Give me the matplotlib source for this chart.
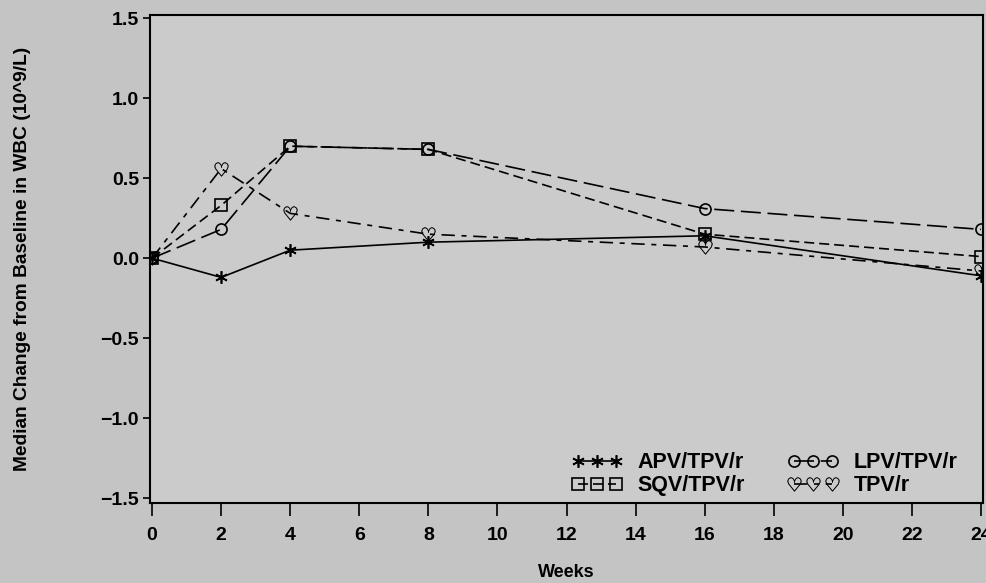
import matplotlib
matplotlib.use("Agg")
import matplotlib.pyplot as plt

plt.rcParams["font.family"] = ["Liberation Sans", "DejaVu Sans"]
plt.rcParams["font.weight"] = "bold"
plt.rcParams["axes.unicode_minus"] = True

weeks = [0, 2, 4, 8, 16, 24]

apv_tpv_r = [0.0, -0.12, 0.05, 0.10, 0.14, -0.11]
sqv_tpv_r = [0.0, 0.33, 0.70, 0.68, 0.15, 0.01]
lpv_tpv_r = [0.0, 0.18, 0.70, 0.68, 0.31, 0.18]
tpv_r = [0.0, 0.56, 0.28, 0.15, 0.07, -0.08]

series_names = ["APV/TPV/r", "SQV/TPV/r", "LPV/TPV/r", "TPV/r"]

x_ticks = list(range(0, 25, 2))
y_ticks = [-1.5, -1.0, -0.5, 0.0, 0.5, 1.0, 1.5]

fig = plt.figure(figsize=(9.87, 5.83), dpi=100, facecolor="#c4c4c4")
ax = fig.add_axes([0.152, 0.137, 0.844, 0.837], facecolor="#cbcbcb")

ax.plot(weeks, apv_tpv_r, color="black", lw=1.2, ls="-",
        marker=(6, 2, 0), ms=9, mew=1.2, label=series_names[0])
ax.plot(weeks, sqv_tpv_r, color="black", lw=1.2, ls=(0, (6, 3)),
        marker="s", ms=8, mfc="none", mew=1.2, label=series_names[1])
ax.plot(weeks, lpv_tpv_r, color="black", lw=1.2, ls=(0, (12, 4)),
        marker="o", ms=8, mfc="none", mew=1.2, label=series_names[2])
ax.plot(weeks, tpv_r, color="black", lw=1.2, ls=(0, (8, 4, 3, 4)),
        marker=r"$\heartsuit$", ms=10, mew=0.3, label=series_names[3])

ax.set_xlim(-0.06, 24.06)
ax.set_ylim(-1.531, 1.519)
ax.set_xticks(x_ticks)
ax.set_yticks(y_ticks)
ax.set_yticklabels([f"{v:.1f}".replace("-", "\u2212") for v in y_ticks])

ax.tick_params(axis="both", labelsize=14, width=1.2, direction="out")
ax.tick_params(axis="x", length=9, pad=8)
ax.tick_params(axis="y", length=5, pad=3)
for s in ax.spines.values():
    s.set_linewidth(1.5)

ax.set_xlabel("Weeks", fontsize=13, fontweight="bold")
ax.xaxis.set_label_coords(0.5, -0.125)
ax.set_ylabel("Median Change from Baseline in WBC (10^9/L)", fontsize=13.8,
              fontweight="bold")
ax.yaxis.set_label_coords(-0.143, 0.5)

ax.legend(loc="lower left", ncol=2, frameon=False, fontsize=15.5,
          numpoints=3, handlelength=2.35, columnspacing=2.0,
          handletextpad=0.7, labelspacing=0.1, borderpad=0,
          borderaxespad=0, bbox_to_anchor=(0.506, 0.014))

fig.savefig("out.png", dpi=100, facecolor=fig.get_facecolor())
